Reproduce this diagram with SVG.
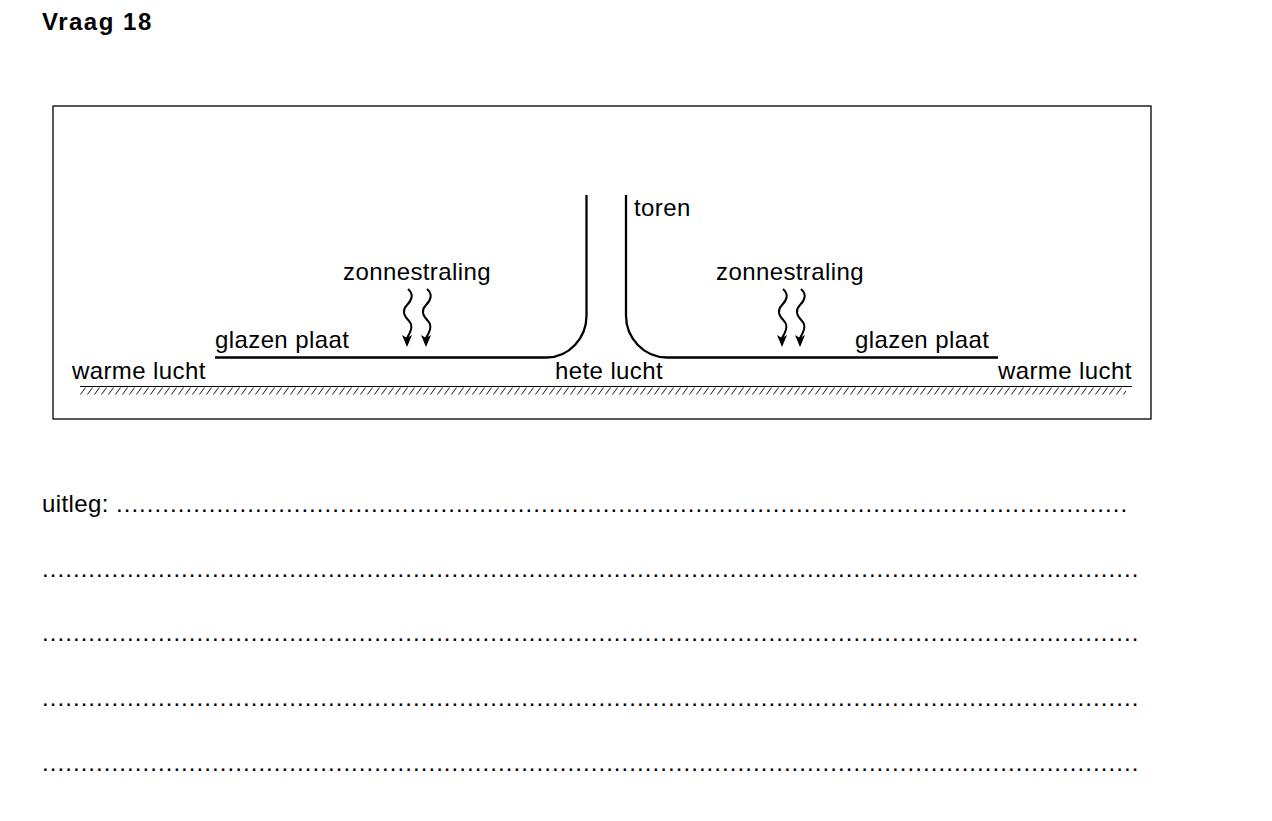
<svg xmlns="http://www.w3.org/2000/svg" width="1272" height="821" viewBox="0 0 1272 821">
<style>
text{font-family:"Liberation Sans",Arial,sans-serif;font-size:24px;letter-spacing:0.4px;fill:#000}
.title{font-weight:bold;font-size:24px;letter-spacing:1.5px}
.dots{letter-spacing:1.06px}
.wall{fill:none;stroke:#000;stroke-width:2.3}
.wave{fill:none;stroke:#000;stroke-width:2}
</style>
<defs>
<pattern id="hatch" x="80" y="387" width="7" height="8" patternUnits="userSpaceOnUse">
<line x1="0.5" y1="7.5" x2="5.5" y2="0.5" stroke="#000" stroke-width="0.9"/>
</pattern>
<marker id="ah" viewBox="0 0 12 10" refX="10" refY="5" markerWidth="13" markerHeight="10" markerUnits="userSpaceOnUse" orient="auto">
<path d="M0,0 L3,5 L0,10 L12,5 Z" fill="#000"/>
</marker>
</defs>
<text class="title" x="42" y="30">Vraag 18</text>
<g id="frame"><rect x="53" y="106" width="1098" height="313" fill="none" stroke="#000" stroke-width="1.3"/></g>
<g id="ground">
<line x1="80" y1="386.5" x2="1132" y2="386.5" stroke="#000" stroke-width="1"/>
<rect x="80" y="387" width="1046" height="8" fill="url(#hatch)"/>
</g>
<g id="tower">
<path class="wall" d="M586.5,195 V315 A40,42 0 0 1 546.5,357.5 H215"/>
<path class="wall" d="M626,195 V315 A41,42 0 0 0 667,357.5 H998"/>
<text x="634" y="216">toren</text>
</g>
<g id="rays-left">
<text x="343" y="280">zonnestraling</text>
<path class="wave" d="M408,289 C414,294 412,300 407,305 C402,310 404,316 409,321 C414,326 410,333 407,338 L407,345" marker-end="url(#ah)"/>
<path class="wave" d="M427,289 C433,294 431,300 426,305 C421,310 423,316 428,321 C433,326 429,333 426,338 L426,345" marker-end="url(#ah)"/>
</g>
<g id="rays-right">
<text x="716" y="280">zonnestraling</text>
<path class="wave" d="M783,289 C789,294 787,300 782,305 C777,310 779,316 784,321 C789,326 785,333 782,338 L782,345" marker-end="url(#ah)"/>
<path class="wave" d="M801,289 C807,294 805,300 800,305 C795,310 797,316 802,321 C807,326 803,333 800,338 L800,345" marker-end="url(#ah)"/>
</g>
<g id="labels">
<text x="215" y="348">glazen plaat</text>
<text x="855" y="348">glazen plaat</text>
<text x="72" y="379">warme lucht</text>
<text x="998" y="379">warme lucht</text>
<text x="555" y="379">hete lucht</text>
</g>
<g id="answer">
<text x="42" y="512">uitleg: <tspan class="dots">...................................................................................................................................</tspan></text>
<text class="dots" x="42" y="577">..............................................................................................................................................</text>
<text class="dots" x="42" y="641">..............................................................................................................................................</text>
<text class="dots" x="42" y="706">..............................................................................................................................................</text>
<text class="dots" x="42" y="771">..............................................................................................................................................</text>
</g>
</svg>
